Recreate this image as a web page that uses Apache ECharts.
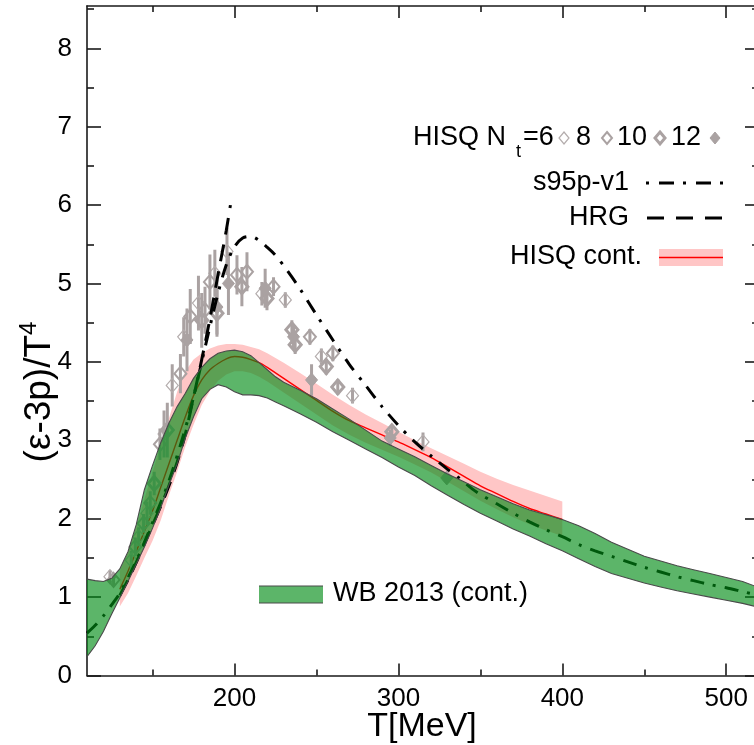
<!DOCTYPE html>
<html><head><meta charset="utf-8">
<script src="https://cdn.jsdelivr.net/npm/echarts@6/dist/echarts.min.js"></script>
<style>html,body{margin:0;padding:0;background:#fff}#c{width:754px;height:745px}</style>
</head><body><div id="c"></div>
<script>
// ---------- data ----------
const TG = [110,115,120,125,130,135,140,145,150,155,160,165,170,175,180,185,190,195,200,205,210,215,220,225,230,240,250,260,270,280,290,300,310,320,330,340,350,360,370,380,390,400,410,420,430,440,450,460,470,480,490,500,510,520];
const WB_UP = [1.23,1.21,1.20,1.24,1.36,1.58,1.92,2.37,2.68,2.97,3.22,3.43,3.60,3.79,3.93,4.04,4.11,4.14,4.15,4.13,4.08,3.99,3.90,3.81,3.74,3.64,3.53,3.40,3.27,3.13,2.99,2.89,2.79,2.68,2.57,2.47,2.37,2.28,2.19,2.11,2.05,1.99,1.91,1.81,1.70,1.61,1.52,1.46,1.40,1.35,1.30,1.25,1.20,1.12];
const WB_LO = [0.24,0.38,0.56,0.78,0.99,1.20,1.42,1.64,1.88,2.14,2.43,2.70,3.03,3.30,3.53,3.65,3.71,3.68,3.62,3.58,3.58,3.57,3.54,3.49,3.44,3.34,3.23,3.11,3.00,2.89,2.78,2.66,2.55,2.42,2.30,2.18,2.07,1.97,1.87,1.78,1.68,1.59,1.49,1.39,1.30,1.24,1.18,1.13,1.08,1.04,1.00,0.96,0.92,0.87];

const TP = [130,135,140,145,150,155,160,165,170,175,180,185,190,195,200,205,210,215,220,225,230,240,250,260,270,280,290,300,310,320,330,340,350,360,370,380,390,400];
const HISQ_LINE = [1.10,1.33,1.58,1.84,2.10,2.40,2.70,3.00,3.30,3.57,3.77,3.90,3.98,4.04,4.07,4.06,4.03,3.99,3.93,3.86,3.79,3.65,3.51,3.37,3.25,3.16,3.07,2.98,2.88,2.78,2.66,2.54,2.42,2.32,2.22,2.13,2.06,1.99];
const HISQ_UP = [1.33,1.58,1.88,2.25,2.60,2.95,3.28,3.62,3.88,4.03,4.11,4.17,4.21,4.23,4.23,4.22,4.19,4.16,4.11,4.05,3.99,3.86,3.72,3.58,3.45,3.33,3.22,3.11,3.00,2.90,2.80,2.70,2.60,2.51,2.43,2.36,2.29,2.22];
const HISQ_LO = [0.88,1.05,1.27,1.50,1.72,1.98,2.30,2.60,2.92,3.20,3.45,3.63,3.76,3.84,3.88,3.88,3.86,3.81,3.75,3.68,3.61,3.47,3.33,3.19,3.07,2.97,2.88,2.79,2.69,2.59,2.47,2.35,2.23,2.12,2.02,1.93,1.85,1.78];

const HRG_T = [130,135,140,145,150,155,160,165,170,175,180,185,190,195,197.5];
const HRG_V = [1.02,1.22,1.44,1.68,1.92,2.16,2.42,2.72,3.08,3.55,4.03,4.55,5.12,5.68,6.0];

const S95_T = [110,115,120,125,130,140,150,160,170,175,180,185,190,195,200,205,210,215,220,225,232,240,250,260,270,280,290,300,310,320,330,337,345,350,360,370,380,390,400,410,420,430,440,450,460,470,480,490,500,510,520];
const S95_V = [0.54,0.64,0.76,0.90,1.05,1.46,1.95,2.48,3.15,3.55,4.0,4.45,4.88,5.24,5.47,5.58,5.6,5.55,5.46,5.36,5.17,4.93,4.6,4.28,3.97,3.7,3.43,3.19,2.98,2.8,2.63,2.52,2.38,2.31,2.19,2.07,1.96,1.86,1.77,1.67,1.59,1.52,1.45,1.38,1.32,1.26,1.21,1.16,1.12,1.07,1.02];

// [T, value, error]
const NT6 = [[124,1.26,0.08],[137,1.47,0.12],[141.5,1.77,0.12],[146.6,2.07,0.15],[157,3.08,0.3],[162,3.70,0.27],[169,4.32,0.25],[178,4.75,0.35],[188,5.13,0.3],[195.4,5.41,0.3],[216.7,4.87,0.15],[231,4.79,0.1],[253,4.07,0.1],[272,3.57,0.1],[315,2.98,0.12]];
const NT8 = [[126.2,1.22,0.08],[139.5,1.64,0.12],[144.5,1.94,0.12],[148.6,2.2,0.15],[154.5,2.95,0.2],[167,3.85,0.25],[173,4.58,0.35],[182,4.66,0.3],[185,5.02,0.35],[201.5,5.11,0.25],[207.6,5.15,0.25],[223.8,4.96,0.12],[246,4.32,0.1],[260,4.11,0.1]];
const NT10 = [[151,2.45,0.15],[159,3.13,0.35],[180,4.53,0.35],[189.3,4.62,0.3],[204.5,4.96,0.25],[219.8,4.81,0.15],[235,4.41,0.12],[237,4.22,0.12],[256,3.94,0.1],[263,3.68,0.1],[296,3.11,0.08]];
const NT12 = [[171,4.28,0.4],[189.3,4.70,0.35],[196.3,5.0,0.4],[218.7,4.94,0.25],[236,4.32,0.15],[247,3.77,0.2],[295,3.03,0.1],[329.5,2.52,0.05]];

const X_MAJOR = [200,300,400,500];
const X_MINOR = [150,250,350,450];
const Y_MAJOR = [0,1,2,3,4,5,6,7,8];
const Y_MINOR = [0.5,1.5,2.5,3.5,4.5,5.5,6.5,7.5,8.5];
const X_MIN = 110, X_MAX = 520, Y_MIN = 0, Y_MAX = 8.54;

// ---------- styles ----------
const FONT = "'Liberation Sans', Arial, Helvetica, sans-serif";
const GREEN_T = 'rgba(0,140,20,0.64)';   // translucent band: lines beneath show through darkened
const OUTLINE = '#4a4a4a';
const PINK = '#ffc6c6', RED = '#ff0000', GRAY = '#aaa2a2', GRAY_LIGHT = '#b4adad';
const AXC = '#1a1a1a';

// a band is drawn as one polygon (single data item, outline edges optional)
function band(T, lo, hi, z, fill, edge) {
  return {
    type: 'custom', coordinateSystem: 'cartesian2d', xAxisIndex: 0, yAxisIndex: 0,
    clip: true, silent: true, z: z,
    data: [[T[0], lo[0], hi[0]]],
    encode: { x: 0, y: [1, 2] },
    renderItem: (params, api) => {
      const up = T.map((t, i) => api.coord([t, hi[i]]));
      const dn = T.map((t, i) => api.coord([t, lo[i]]));
      const children = [{
        type: 'polygon', shape: { points: up.concat(dn.slice().reverse()) },
        style: { fill: fill, stroke: null }
      }];
      if (edge) {
        children.push({ type: 'polyline', shape: { points: up }, style: { stroke: OUTLINE, lineWidth: 1.1, fill: null } });
        children.push({ type: 'polyline', shape: { points: dn }, style: { stroke: OUTLINE, lineWidth: 1.1, fill: null } });
      }
      return { type: 'group', children: children };
    }
  };
}

function diamondPts(x, y, w, h) {
  return [[x, y - h], [x + w, y], [x, y + h], [x - w, y]];
}

function points(data, fill, stroke, lw) {
  return {
    type: 'custom', coordinateSystem: 'cartesian2d', xAxisIndex: 0, yAxisIndex: 0,
    clip: true, silent: true, z: 3,
    data: data, encode: { x: 0, y: 1 },
    renderItem: (params, api) => {
      const t = api.value(0), v = api.value(1), e = api.value(2);
      const p = api.coord([t, v]), a = api.coord([t, v + e]), b = api.coord([t, v - e]);
      return {
        type: 'group', children: [
          { type: 'line', shape: { x1: a[0], y1: a[1], x2: b[0], y2: b[1] }, style: { stroke: GRAY, lineWidth: 3 } },
          { type: 'polygon', shape: { points: diamondPts(p[0], p[1], 6, 7) }, style: { fill: fill, stroke: stroke, lineWidth: lw } }
        ]
      };
    }
  };
}

function xy(T, V) { return T.map((t, i) => [t, V[i]]); }

const series = [
  band(TP, HISQ_LO, HISQ_UP, 1, PINK, false),
  { type: 'line', name: 'HISQ cont', data: xy(TP, HISQ_LINE), smooth: 0.3, symbol: 'none', z: 2, silent: true,
    lineStyle: { color: RED, width: 1.4 } },
  points(NT6, 'none', GRAY_LIGHT, 1.2),
  points(NT8, 'none', GRAY, 2),
  points(NT10, 'none', GRAY, 3),
  points(NT12, GRAY, GRAY, 1),
  { type: 'line', name: 'HRG', data: xy(HRG_T, HRG_V), smooth: 0.3, symbol: 'none', z: 4, silent: true,
    lineStyle: { color: '#000', width: 3, type: [17, 10] } },
  { type: 'line', name: 's95p', data: xy(S95_T, S95_V), smooth: 0.3, symbol: 'none', z: 4, silent: true,
    lineStyle: { color: '#000', width: 3, type: [14, 9, 3, 9] } },
  band(TG, WB_LO, WB_UP, 5, GREEN_T, true)
];

function xAx(grid, pos, vals, len, labels, line) {
  return {
    type: 'value', gridIndex: grid, position: pos, min: X_MIN, max: X_MAX,
    axisLine: { show: line, onZero: false, lineStyle: { color: AXC, width: 1.6 } },
    axisTick: { show: true, inside: true, length: len, customValues: vals, lineStyle: { color: AXC, width: 1.6 } },
    axisLabel: { show: labels, customValues: vals, fontSize: 26, color: '#000', fontFamily: FONT, margin: 10 },
    splitLine: { show: false }
  };
}
function yAx(grid, pos, vals, len, labels, line) {
  return {
    type: 'value', gridIndex: grid, position: pos, min: Y_MIN, max: Y_MAX,
    axisLine: { show: line, onZero: false, lineStyle: { color: AXC, width: 1.6 } },
    axisTick: { show: true, inside: true, length: len, customValues: vals, lineStyle: { color: AXC, width: 1.6 } },
    axisLabel: { show: labels, customValues: vals, fontSize: 26, color: '#000', fontFamily: FONT, margin: 15 },
    splitLine: { show: false }
  };
}

const gridBox = { left: 87, right: -5, top: 6, bottom: 69.5, outerBoundsMode: 'none', containLabel: false };

const LX = 629; // right edge of legend texts
const legendText = (txt, x, y, align, size) => ({
  type: 'text', x: x, y: y, z: 100,
  style: { text: txt, fontSize: size || 27, fontFamily: FONT, fill: '#000', align: align || 'left', verticalAlign: 'middle' }
});
const legendDiamond = (x, y, fill, stroke, lw) => ({
  type: 'polygon', z: 100, shape: { points: diamondPts(x, y, 5, 6) }, style: { fill: fill, stroke: stroke, lineWidth: lw }
});

const graphic = [
  legendText('HISQ N', 413, 138),
  legendText('t', 516, 152, 'left', 18),
  legendText('=6', 523, 138),
  legendDiamond(564, 138, '#fff', GRAY_LIGHT, 1.2),
  legendText('8', 576, 138),
  legendDiamond(607, 138, '#fff', GRAY, 2),
  legendText('10', 617, 138),
  legendDiamond(660, 138, '#fff', GRAY, 3),
  legendText('12', 671, 138),
  legendDiamond(715, 138, GRAY, GRAY, 1),
  legendText('s95p-v1', LX, 183, 'right'),
  { type: 'polyline', z: 100, shape: { points: [[646, 183], [723, 183]] }, style: { stroke: '#000', lineWidth: 3, lineDash: [3, 10, 15, 9] } },
  legendText('HRG', LX, 218, 'right'),
  { type: 'polyline', z: 100, shape: { points: [[647, 218], [722, 218]] }, style: { stroke: '#000', lineWidth: 3, lineDash: [17, 12] } },
  legendText('HISQ cont.', 642, 257, 'right'),
  { type: 'rect', z: 100, shape: { x: 659, y: 249, width: 64, height: 17 }, style: { fill: PINK } },
  { type: 'line', z: 101, shape: { x1: 659, y1: 257.5, x2: 723, y2: 257.5 }, style: { stroke: RED, lineWidth: 1.5 } },
  { type: 'rect', z: 100, shape: { x: 259, y: 586, width: 64, height: 17 }, style: { fill: GREEN_T } },
  { type: 'line', z: 101, shape: { x1: 259, y1: 586, x2: 323, y2: 586 }, style: { stroke: OUTLINE, lineWidth: 1.1 } },
  { type: 'line', z: 101, shape: { x1: 259, y1: 603, x2: 323, y2: 603 }, style: { stroke: OUTLINE, lineWidth: 1.1 } },
  legendText('WB 2013 (cont.)', 333, 594),
  { type: 'text', x: 422, y: 727, z: 100,
    style: { text: 'T[MeV]', fontSize: 34, fontFamily: FONT, fill: '#000', align: 'center', verticalAlign: 'middle' } },
  { type: 'text', x: 40, y: 392, rotation: Math.PI / 2, z: 100,
    style: { text: '{a|(ε-3p)/T}{s|4}', align: 'center', verticalAlign: 'middle',
      rich: { a: { fontSize: 37, fontFamily: FONT, fill: '#000' },
              s: { fontSize: 24, fontFamily: FONT, fill: '#000', padding: [0, 0, 22, 0] } } } }
];

const chart = echarts.init(document.getElementById('c'), null, { renderer: 'canvas' });
chart.setOption({
  animation: false,
  backgroundColor: '#fff',
  grid: [Object.assign({}, gridBox), Object.assign({}, gridBox)],
  xAxis: [
    xAx(0, 'bottom', X_MAJOR, 12, true, true),
    xAx(0, 'top', X_MAJOR, 12, false, true),
    xAx(1, 'bottom', X_MINOR, 6, false, false),
    xAx(1, 'top', X_MINOR, 6, false, false)
  ],
  yAxis: [
    yAx(0, 'left', Y_MAJOR, 14, true, true),
    yAx(0, 'right', Y_MAJOR, 14, false, true),
    yAx(1, 'left', Y_MINOR, 7, false, false),
    yAx(1, 'right', Y_MINOR, 7, false, false)
  ],
  series: series,
  graphic: graphic
});
</script>
</body></html>
